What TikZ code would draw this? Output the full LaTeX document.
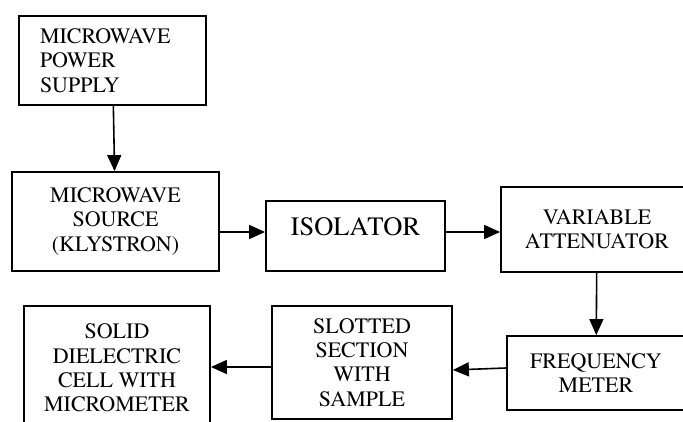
\documentclass[tikz,border=0pt]{standalone}
\usepackage{fontspec}
\setmainfont{TeX Gyre Termes}
\usetikzlibrary{arrows.meta}

\tikzset{%
  block/.style ={draw=black, line width=1.8pt, inner sep=0pt, align=center,
    font=\fontsize{22}{24.3}\selectfont},
  flow/.style={line width=1.6pt, -{Triangle[length=16pt,width=14pt]}},
}

\begin{document}
\begin{tikzpicture}[x=1pt, y=-1pt]
  \useasboundingbox (0,0) rectangle (683,422);
  \clip (0,0) rectangle (683,422);
  \node[block, minimum width=187pt, minimum height=89pt, text width=145pt, align=left] (supply) at (112.5,60.5) {MICROWAVE\\POWER\\SUPPLY};
  \node[block, minimum width=207pt, minimum height=99pt] (source) at (115.5,221.5) {MICROWAVE\\SOURCE\\(KLYSTRON)};
  \node[block, minimum width=179pt, minimum height=70pt, text depth=18pt, font=\fontsize{26.5}{30}\selectfont] (iso) at (355.5,236) {ISOLATOR};
  \node[block, minimum width=192pt, minimum height=85pt] (att) at (597,229.5) {VARIABLE\\ATTENUATOR};
  \node[block, minimum width=178pt, minimum height=74pt] (freq) at (596,373) {FREQUENCY\\METER};
  \node[block, minimum width=180pt, minimum height=113pt] (slot) at (362,362.5) {SLOTTED\\SECTION\\WITH\\SAMPLE};
  \node[block, minimum width=186pt, minimum height=124pt] (solid) at (117,368) {SOLID\\DIELECTRIC\\CELL WITH\\MICROMETER};
  % signal path
  \draw[flow] (supply) -- (source);
  \draw[flow] ([yshift=4pt]source.east |- iso.west) -- ([yshift=4pt]iso.west);
  \draw[flow] ([yshift=4pt]iso.east) -- ([yshift=4pt]att.west |- iso.east);
  \draw[flow] (att) -- (freq);
  \draw[flow] ([yshift=5pt]freq.west) -- ([yshift=-7.5pt]slot.east);
  \draw[flow] ([yshift=-4.5pt]slot.west) -- ([yshift=-4.5pt]solid.east |- slot.west);
\end{tikzpicture}
\end{document}
